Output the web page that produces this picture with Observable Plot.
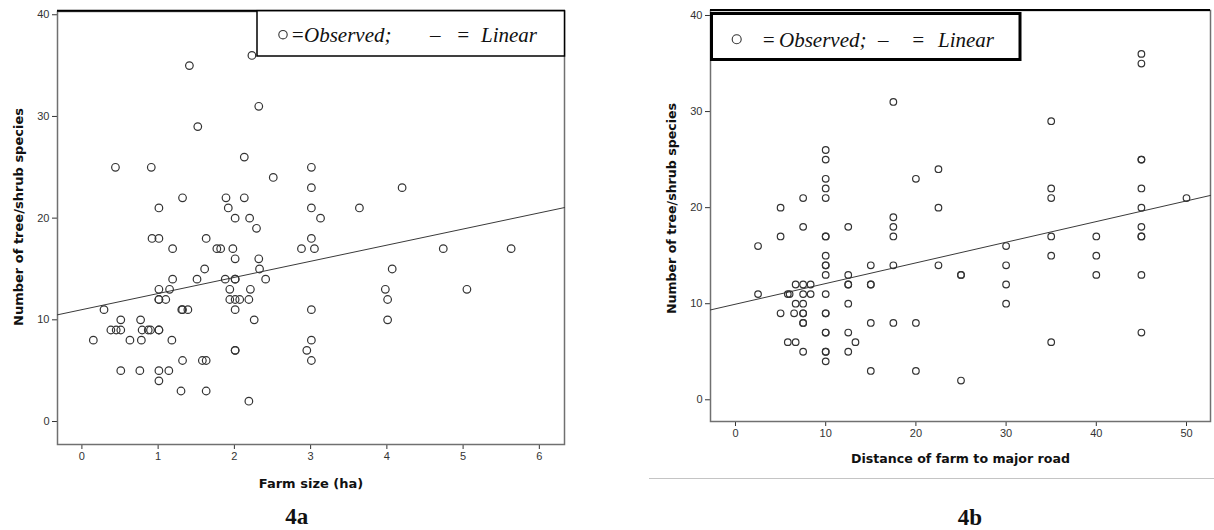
<!DOCTYPE html>
<html>
<head>
<meta charset="utf-8">
<script src="https://cdn.jsdelivr.net/npm/d3@7"></script>
<script src="https://cdn.jsdelivr.net/npm/@observablehq/plot@0.6"></script>
<style>
  body { margin: 0; background: #fff; }
  #root { position: relative; width: 1214px; height: 530px; overflow: hidden; background: #fff; }
  .panel { position: absolute; top: 0; }
  .panel svg g[aria-label$="axis label"] text { font-family: "DejaVu Sans", Verdana, sans-serif; font-weight: bold; fill: #111; }
  #panelA svg g[aria-label$="axis label"] text { font-size: 13px; }
  #panelB svg g[aria-label$="axis label"] text { font-size: 12.6px; }
  #overlay { position: absolute; left: 0; top: 0; pointer-events: none; }
</style>
</head>
<body>
<div id="root">
  <div id="panelA" class="panel" style="left:0px"></div>
  <div id="panelB" class="panel" style="left:640px"></div>
</div>
<script>
// ---------- data ----------
// Panel 4a: farm size (ha) vs number of tree/shrub species
const farmSizeHa = [
  0.44, 0.91, 1.01, 1.32, 1.41, 1.52, 1.89, 1.92, 2.01, 2.13, 2.13, 2.20, 2.23, 2.32, 2.29, 2.51,
  0.92, 1.01, 1.63, 1.19, 1.77, 1.82, 1.98, 2.01, 2.32, 1.61, 2.33, 1.19, 1.51, 1.88, 2.01, 2.01, 2.41,
  1.01, 1.15, 1.94, 2.21, 1.01, 1.01, 1.10, 1.94, 2.01, 2.07, 2.19, 0.29, 1.31, 1.32, 1.39, 2.01,
  0.51, 0.77, 2.26, 0.38, 0.45, 0.51, 0.79, 0.87, 0.90, 1.01, 1.01, 0.15, 0.63, 0.78, 1.18,
  2.01, 2.01, 1.32, 1.58, 1.63, 0.51, 0.76, 1.01, 1.14, 1.01, 1.30, 1.63, 2.19,
  3.01, 3.01, 4.20, 3.01, 3.13, 3.64, 3.01, 2.88, 3.05, 4.74, 5.63, 4.07, 3.98, 5.05, 4.01, 3.01, 4.01, 3.01, 2.95, 3.01
];
const speciesA = [
  25, 25, 21, 22, 35, 29, 22, 21, 20, 26, 22, 20, 36, 31, 19, 24,
  18, 18, 18, 17, 17, 17, 17, 16, 16, 15, 15, 14, 14, 14, 14, 14, 14,
  13, 13, 13, 13, 12, 12, 12, 12, 12, 12, 12, 11, 11, 11, 11, 11,
  10, 10, 10, 9, 9, 9, 9, 9, 9, 9, 9, 8, 8, 8, 8,
  7, 7, 6, 6, 6, 5, 5, 5, 5, 4, 3, 3, 2,
  25, 23, 23, 21, 20, 21, 18, 17, 17, 17, 17, 15, 13, 13, 12, 11, 10, 8, 7, 6
];
// Panel 4b: distance of farm to major road vs number of tree/shrub species
const roadDistance = [
  5, 7.5, 7.5, 10, 10, 10, 10, 10, 12.5, 17.5, 17.5, 17.5, 20, 22.5, 22.5, 35, 35, 35, 45, 45, 45, 45, 45, 45, 45, 50,
  5, 10, 10, 17.5, 2.5, 10, 10, 10, 15, 17.5, 22.5, 10, 12.5, 6.67, 7.5, 8.33, 12.5, 12.5, 15, 15,
  2.5, 5.8, 6, 7.5, 8.33, 10, 6.67, 7.5, 12.5, 5, 6.5, 7.5, 7.5, 10, 10, 7.5, 7.5, 15, 17.5, 20,
  5.8, 6.67, 13.3, 10, 10, 12.5, 7.5, 10, 10, 12.5, 10, 15, 20,
  45, 45, 40, 35, 30, 35, 40, 30, 25, 25, 40, 45, 30, 30, 45, 35, 25
];
const speciesB = [
  20, 21, 18, 26, 25, 23, 22, 21, 18, 31, 19, 18, 23, 24, 20, 29, 22, 21, 36, 35, 25, 25, 22, 20, 18, 21,
  17, 17, 17, 17, 16, 15, 14, 14, 14, 14, 14, 13, 13, 12, 12, 12, 12, 12, 12, 12,
  11, 11, 11, 11, 11, 11, 10, 10, 10, 9, 9, 9, 9, 9, 9, 8, 8, 8, 8, 8,
  6, 6, 6, 7, 7, 7, 5, 5, 5, 5, 4, 3, 3,
  17, 17, 17, 17, 16, 15, 15, 14, 13, 13, 13, 13, 12, 10, 7, 6, 2
];
// Linear fits: [intercept, slope]
const fitA = [11.0, 1.586];
const fitB = [9.95, 0.215];
// Axis ticks
const yTicks = [0, 10, 20, 30, 40];
const xTicksA = [0, 1, 2, 3, 4, 5, 6];
const xTicksB = [0, 10, 20, 30, 40, 50];
// Texts
const yLabel = "Number of tree/shrub species";
const xLabelA = "Farm size (ha)";
const xLabelB = "Distance of farm to major road";
const captions = ["4a", "4b"];
const legendParts = ["=", "Observed;", "–", "=", "Linear"];

// ---------- build ----------
const dataA = farmSizeHa.map((x, i) => ({x, y: speciesA[i]}));
const dataB = roadDistance.map((x, i) => ({x, y: speciesB[i]}));
const fitLine = (fit, domain) => domain.map(x => ({x, y: fit[0] + fit[1] * x}));

const xDomA = [-0.32, 6.33], yDomA = [-2.26, 40.32];
const xDomB = [-2.77, 52.66], yDomB = [-2.26, 40.52];

const common = {
  style: {fontFamily: "'Liberation Sans', Arial, sans-serif", fontSize: "11px", color: "#333", background: "transparent", overflow: "visible"}
};
const fmt = d => String(d);
const yTitle = (size, dx, dy) => Plot.text([yLabel], {
  text: d => d, frameAnchor: "left", textAnchor: "middle", lineAnchor: "middle", rotate: -90, dx, dy,
  fontFamily: "DejaVu Sans, Verdana, sans-serif", fontWeight: "bold", fontSize: size, fill: "#111"
});

const plotA = Plot.plot({
  ...common,
  width: 600, height: 530,
  marginLeft: 57, marginRight: 36, marginTop: 11, marginBottom: 86,
  x: {domain: xDomA, ticks: xTicksA, tickFormat: fmt, tickSize: 5, tickPadding: 3, label: xLabelA, labelAnchor: "center", labelOffset: 43, labelArrow: "none"},
  y: {domain: yDomA, ticks: yTicks, tickFormat: fmt, tickSize: 5, tickPadding: 3, label: null},
  marks: [
    Plot.frame({stroke: "#707070", strokeWidth: 1.5}),
    Plot.line(fitLine(fitA, xDomA), {x: "x", y: "y", stroke: "#3a3a3a", strokeWidth: 1}),
    Plot.dot(dataA, {x: "x", y: "y", r: 3.8, stroke: "#333", strokeWidth: 1.2, fill: "none"}),
    yTitle(13, -38.7, -11)
  ]
});
document.getElementById("panelA").appendChild(plotA);

const plotB = Plot.plot({
  ...common,
  width: 574, height: 530,
  marginLeft: 70, marginRight: 4, marginTop: 10, marginBottom: 109,
  x: {domain: xDomB, ticks: xTicksB, tickFormat: fmt, tickSize: 5, tickPadding: 3, label: xLabelB, labelAnchor: "center", labelOffset: 41, labelArrow: "none"},
  y: {domain: yDomB, ticks: yTicks, tickFormat: fmt, tickSize: 5, tickPadding: 3, label: null},
  marks: [
    Plot.frame({stroke: "#707070", strokeWidth: 1.5}),
    Plot.line(fitLine(fitB, xDomB), {x: "x", y: "y", stroke: "#3a3a3a", strokeWidth: 1}),
    Plot.dot(dataB, {x: "x", y: "y", r: 3.3, stroke: "#333", strokeWidth: 1.2, fill: "none"}),
    yTitle(12.6, -38.3, -7.5)
  ]
});
document.getElementById("panelB").appendChild(plotB);

// ---------- overlay: legend boxes, top rules, captions ----------
const svg = d3.select("#root").append("svg")
  .attr("id", "overlay").attr("width", 1214).attr("height", 530);

// top black rules of each frame
svg.append("line").attr("x1", 57).attr("x2", 565).attr("y1", 10.7).attr("y2", 10.7).attr("stroke", "#000").attr("stroke-width", 2);
svg.append("line").attr("x1", 710).attr("x2", 1210).attr("y1", 10).attr("y2", 10).attr("stroke", "#000").attr("stroke-width", 2);

function legend(box, circle, xs, baseline, bw, cr) {
  svg.append("rect").attr("x", box[0]).attr("y", box[1]).attr("width", box[2]).attr("height", box[3])
    .attr("fill", "#fff").attr("stroke", "#000").attr("stroke-width", bw);
  svg.append("circle").attr("cx", circle[0]).attr("cy", circle[1]).attr("r", cr)
    .attr("fill", "none").attr("stroke", "#333").attr("stroke-width", 1.1);
  legendParts.forEach((t, i) => {
    svg.append("text").attr("x", xs[i]).attr("y", baseline).text(t)
      .attr("font-family", "'Liberation Serif', 'Times New Roman', serif")
      .attr("font-style", "italic").attr("font-size", 21).attr("fill", "#111");
  });
}
legend([257, 10.7, 307.5, 45.3], [283, 34.7], [290.5, 304, 430, 456, 481], 41.7, 1.5, 4.2);
legend([711.5, 13.5, 308.5, 46], [736.7, 39.3], [761.5, 779, 878, 911, 938], 46.5, 3, 4.5);

// separator line under panel 4b
svg.append("line").attr("x1", 649).attr("x2", 1214).attr("y1", 478.5).attr("y2", 478.5).attr("stroke", "#c4c4c4").attr("stroke-width", 1);

// captions
[[296.7, 524], [970, 525]].forEach((p, i) => {
  svg.append("text").attr("x", p[0]).attr("y", p[1]).attr("text-anchor", "middle").text(captions[i])
    .attr("font-family", "'Liberation Serif', 'Times New Roman', serif")
    .attr("font-weight", "bold").attr("font-size", 23).attr("fill", "#111");
});
</script>
</body>
</html>
